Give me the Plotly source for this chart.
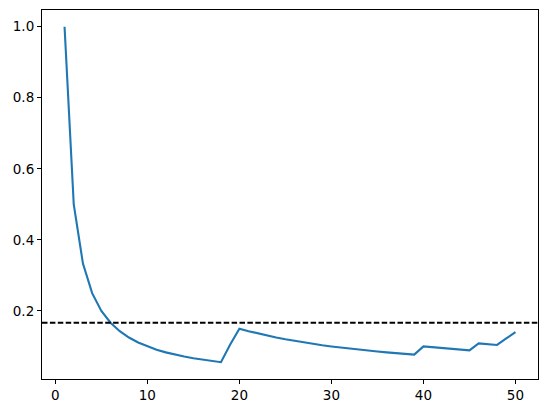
import plotly.graph_objects as go

# running share of sixes after n rolls
rolls = list(range(1, 51))
share = [1.0, 0.5, 0.3333, 0.25, 0.2, 0.1667, 0.1429, 0.125, 0.1111, 0.1,
         0.0909, 0.0833, 0.0769, 0.0714, 0.0667, 0.0625, 0.0588, 0.0556, 0.1053, 0.15,
         0.1429, 0.1364, 0.1304, 0.125, 0.12, 0.1154, 0.1111, 0.1071, 0.1034, 0.1,
         0.0968, 0.0938, 0.0909, 0.0882, 0.0857, 0.0833, 0.0811, 0.0789, 0.0769, 0.1,
         0.0976, 0.0952, 0.093, 0.0909, 0.0889, 0.1087, 0.1064, 0.1042, 0.1224, 0.14]
expected = 1 / 6

fig = go.Figure()
fig.add_trace(go.Scatter(x=rolls, y=share, mode='lines',
                         line=dict(color='#1f77b4', width=2.1), showlegend=False))
fig.add_shape(type='line', xref='paper', yref='y', x0=0, x1=1, y0=expected, y1=expected,
              line=dict(color='black', width=2.1, dash='5.5px,2.4px'))

axis_style = dict(showline=True, linecolor='black', linewidth=1.1, mirror=True,
                  ticks='outside', ticklen=4, tickwidth=1.1, tickcolor='black',
                  showgrid=False, zeroline=False, automargin=False,
                  tickfont=dict(family='DejaVu Sans', size=13.5, color='black'))

# page body has an 8px margin, so the figure is shrunk and shifted to compensate
fig.update_layout(
    width=539, height=405,
    margin=dict(l=34, r=9, t=2, b=34),
    plot_bgcolor='white', paper_bgcolor='white',
    xaxis=dict(range=[-1.45, 52.45], tickvals=[0, 10, 20, 30, 40, 50], **axis_style),
    yaxis=dict(range=[0.0083, 1.047], tickvals=[0.2, 0.4, 0.6, 0.8, 1.0],
               tickformat='.1f', **axis_style),
)

fig.write_html("out.html")
